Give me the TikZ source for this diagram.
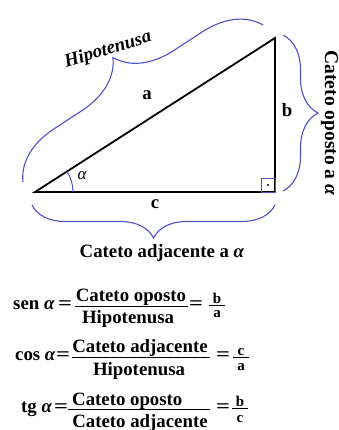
\documentclass[tikz,border=0pt]{standalone}
\usepackage{fontspec}
\setmainfont{Liberation Serif}
\usetikzlibrary{decorations.pathreplacing}
\definecolor{bracecol}{RGB}{80,80,200}
\newcommand{\wideeq}{\scalebox{1.3}[1]{=}}
\tikzset{
 lbl/.style={inner sep=0pt, font=\fontsize{18.8}{22}\selectfont\bfseries},
 sml/.style={inner sep=0pt, font=\fontsize{15}{18}\selectfont\bfseries},
 brc/.style={draw=bracecol, line width=1.1pt, decorate, decoration={brace, amplitude=#1}},
 fracbar/.style={line width=0.9pt},
 legline/.style={line width=1.8pt}
}
\begin{document}
\begin{tikzpicture}[x=1pt,y=-1pt]
\useasboundingbox (0,0) rectangle (339,430);
\fill[white] (0,0) rectangle (339,430);
% triangle
\coordinate (A) at (35,192);
\coordinate (C) at (275,192);
\coordinate (B) at (275,38);
\draw[legline] (A) -- (C) -- (B) -- cycle;
% right angle mark
\draw[bracecol, line width=0.9pt] ([shift={(-14,-14)}]C) rectangle (C);
\fill ([shift={(-7,-7)}]C) circle[radius=1.2];
% angle arc
\draw[bracecol, line width=1pt] ([shift={(38,0)}]A) arc[start angle=0, end angle=-32.7, radius=38];
% braces
\coordinate (h1) at (23,182); \coordinate (h2) at (263,25);
\draw[brc=55pt] (h1) -- (h2);
\coordinate (r1) at (283,35); \coordinate (r2) at (283,191);
\draw[brc=35pt] (r1) -- (r2);
\coordinate (c1) at (275,205); \coordinate (c2) at (32,205);
\draw[brc=33pt] (c1) -- (c2);
% labels
\node[lbl] (la) at (147,95) {a};
\node[lbl] (lb) at (287,110) {b};
\node[lbl] (lc) at (155,204) {c};
\node[inner sep=0pt, font=\fontsize{17}{20}\selectfont\itshape] (lal) at (82,176) {α};
\node[lbl, font=\fontsize{18.8}{22}\selectfont\bfseries\itshape, rotate=17] (hyp) at (108,50) {Hipotenusa};
\node[lbl, font=\fontsize{19.5}{22}\selectfont\bfseries, rotate=-90] (opp) at (329.5,123) {Cateto oposto a \textit{α}};
\node[lbl, anchor=base] (adj) at (162,257) {Cateto adjacente a \textit{α}};
% sen
\node[lbl, anchor=base west] (sen) at (13,309) {sen \textit{α}};
\node[lbl] (eq1) at (65,305) {\wideeq};
\node[lbl, anchor=base] (n1) at (131,301) {Cateto oposto};
\node[lbl, anchor=base] (d1) at (128,323) {Hipotenusa};
\draw[fracbar] (75,306) -- (188,306);
\node[lbl] (eq1b) at (196,305) {\wideeq};
\node[sml, anchor=base] (n1s) at (217,303) {b};
\node[sml, anchor=base] (d1s) at (217,317) {a};
\draw[fracbar] (209,305) -- (225,305);
% cos
\node[lbl, anchor=base west] (cos) at (15,360) {cos \textit{α}};
\node[lbl] (eq2) at (63,356) {\wideeq};
\node[lbl, anchor=base] (n2) at (140,352) {Cateto adjacente};
\node[lbl, anchor=base] (d2) at (139,375) {Hipotenusa};
\draw[fracbar] (72,357) -- (210,357);
\node[lbl] (eq2b) at (223,356) {\wideeq};
\node[sml, anchor=base] (n2s) at (241,355) {c};
\node[sml, anchor=base] (d2s) at (241,370) {a};
\draw[fracbar] (233,357) -- (249,357);
% tg
\node[lbl, anchor=base west] (tg) at (21,412) {tg \textit{α}};
\node[lbl] (eq3) at (61,408) {\wideeq};
\node[lbl, anchor=base west] (n3) at (72,405) {Cateto oposto};
\node[lbl, anchor=base] (d3) at (140,427) {Cateto adjacente};
\draw[fracbar] (68,409) -- (210,409);
\node[lbl] (eq3b) at (223,408) {\wideeq};
\node[sml, anchor=base] (n3s) at (240,406) {b};
\node[sml, anchor=base] (d3s) at (240,422) {c};
\draw[fracbar] (232,408) -- (248,408);
\end{tikzpicture}
\end{document}
